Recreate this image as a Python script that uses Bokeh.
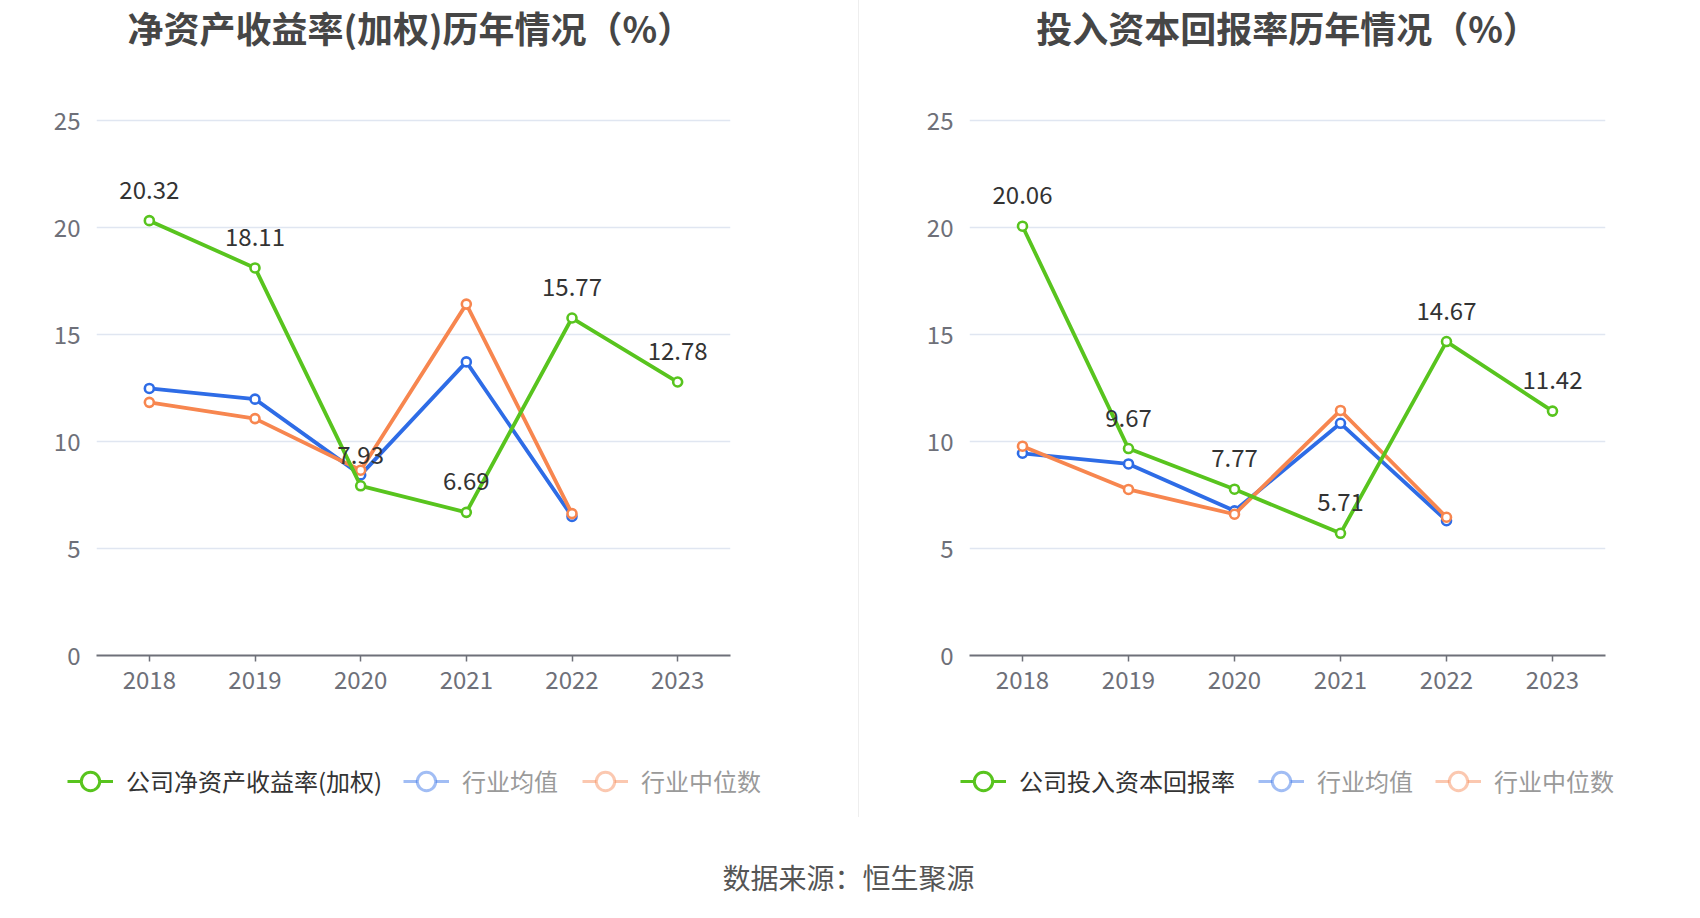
from bokeh.plotting import figure
from bokeh.models import (ColumnDataSource, FactorRange, Range1d, Legend, LegendItem,
                          Label, Div, FixedTicker)
from bokeh.layouts import row, column
from bokeh.embed import file_html
from bokeh.resources import INLINE
from bokeh.core.properties import value

# ---------------- data ----------------
years = ["2018", "2019", "2020", "2021", "2022", "2023"]
years_ind = ["2018", "2019", "2020", "2021", "2022"]

roe_company = [20.32, 18.11, 7.93, 6.69, 15.77, 12.78]
roe_ind_mean = [12.48, 11.98, 8.44, 13.72, 6.50]
roe_ind_median = [11.83, 11.07, 8.66, 16.42, 6.63]

roic_company = [20.06, 9.67, 7.77, 5.71, 14.67, 11.42]
roic_ind_mean = [9.45, 8.95, 6.76, 10.85, 6.30]
roic_ind_median = [9.78, 7.76, 6.60, 11.45, 6.46]

y_ticks = [0, 5, 10, 15, 20, 25]

title_left = "净资产收益率(加权)历年情况（%）"
title_right = "投入资本回报率历年情况（%）"
legend_left = ["公司净资产收益率(加权)", "行业均值", "行业中位数"]
legend_right = ["公司投入资本回报率", "行业均值", "行业中位数"]
footer_text = "数据来源：恒生聚源"

# ---------------- style ----------------
FONT = "Noto Sans CJK SC"
GREEN = "#58c41e"
BLUE = "#2e6ce6"
ORANGE = "#f7864f"
AXIS = "#6e7079"
GRID = "#e0e6f1"

MAIN_H = 750
FRAME_BOTTOM = 655          # page y of value 0
PX_PER_UNIT = 21.4
Y_TOP = FRAME_BOTTOM / PX_PER_UNIT
TITLE_Y = 26                # page y of title centre


def make_main(width, border_left, border_right, title, company, mean, median, title_x):
    p = figure(width=width, height=MAIN_H, x_range=FactorRange(*years, range_padding=0),
               y_range=Range1d(0, Y_TOP), output_backend="svg", toolbar_location=None,
               min_border_left=border_left, min_border_right=border_right,
               min_border_top=0, min_border_bottom=MAIN_H - FRAME_BOTTOM,
               frame_align=False)
    p.outline_line_color = None
    p.xgrid.grid_line_color = None
    p.ygrid.grid_line_color = GRID
    p.ygrid.grid_line_width = 1.5

    p.yaxis.ticker = FixedTicker(ticks=y_ticks)
    p.yaxis.axis_line_color = None
    p.yaxis.major_tick_line_color = None
    p.yaxis.major_tick_out = 0
    p.yaxis.major_tick_in = 0
    p.yaxis.minor_tick_line_color = None
    p.yaxis.major_label_text_font = FONT
    p.yaxis.major_label_text_font_size = "24px"
    p.yaxis.major_label_text_color = AXIS
    p.yaxis.major_label_standoff = 16

    p.xaxis.axis_line_color = AXIS
    p.xaxis.axis_line_width = 2
    p.xaxis.major_tick_line_color = AXIS
    p.xaxis.major_tick_line_width = 1.5
    p.xaxis.major_tick_in = 0
    p.xaxis.major_tick_out = 6
    p.xaxis.major_label_standoff = 9
    p.xaxis.major_label_text_font = FONT
    p.xaxis.major_label_text_font_size = "24px"
    p.xaxis.major_label_text_color = AXIS

    src_c = ColumnDataSource(dict(x=years, y=company, t=["%.2f" % v for v in company]))
    src_m = ColumnDataSource(dict(x=years_ind, y=mean))
    src_d = ColumnDataSource(dict(x=years_ind, y=median))

    for src, col in ((src_m, BLUE), (src_d, ORANGE), (src_c, GREEN)):
        p.line("x", "y", source=src, line_color=col, line_width=3.8)
        p.scatter("x", "y", source=src, size=9, marker="circle", line_color=col,
                  line_width=2.6, fill_color="white")

    p.text("x", "y", text="t", source=src_c, text_font=value(FONT),
           text_font_size="24px", text_color="#333333", text_align="center",
           text_baseline="middle", y_offset=-31)

    p.add_layout(Label(x=title_x, y=(FRAME_BOTTOM - TITLE_Y) / PX_PER_UNIT, text=title,
                       text_font=FONT, text_font_size="36px", text_font_style="bold",
                       text_color="#464646", text_align="center",
                       text_baseline="middle"))
    return p


def make_legend(width, labels, xs):
    h = 90
    p = figure(width=width, height=h, x_range=Range1d(0, width), y_range=Range1d(0, h),
               output_backend="svg", toolbar_location=None, min_border=0,
               x_axis_location=None, y_axis_location=None, frame_align=False)
    p.grid.grid_line_color = None
    p.outline_line_color = None
    styles = [(GREEN, 1.0, "#333333"), (BLUE, 0.45, "#9a9a9a"), (ORANGE, 0.45, "#9a9a9a")]
    for lab, (col, alpha, tcol), lx in zip(labels, styles, xs):
        # a single point far outside the visible range: it only feeds the legend icon
        dummy = ColumnDataSource(dict(x=[-10000], y=[-10000]))
        r1 = p.line("x", "y", source=dummy, line_color=col, line_alpha=alpha, line_width=3)
        r2 = p.scatter("x", "y", source=dummy, marker="circle", line_color=col,
                       line_alpha=alpha, line_width=3, fill_color="white")
        leg = Legend(items=[LegendItem(label=lab, renderers=[r1, r2])],
                     location=(lx, 36.5), orientation="horizontal",
                     glyph_width=46, glyph_height=46, label_standoff=13,
                     padding=0, margin=0, border_line_color=None,
                     background_fill_alpha=0, label_text_font=FONT,
                     label_text_font_size="24px", label_text_color=tcol,
                     label_text_baseline="middle")
        p.add_layout(leg, "center")
    return p


p1 = make_main(858, 96, 128, title_left, roe_company, roe_ind_mean, roe_ind_median, 2.97)
l1 = make_legend(858, legend_left, [67, 403, 582])
p2 = make_main(841, 110, 95, title_right, roic_company, roic_ind_mean, roic_ind_median, 3.0)
l2 = make_legend(841, legend_right, [101, 399, 576])

divider = Div(width=1, height=817, margin=0,
              styles={"background-color": "#eeeeee", "margin": "0", "padding": "0"})

FOOT_H = 76
pf = figure(width=1700, height=FOOT_H, x_range=Range1d(0, 1700), y_range=Range1d(0, FOOT_H),
            output_backend="svg", toolbar_location=None, min_border=0,
            x_axis_location=None, y_axis_location=None, frame_align=False)
pf.grid.grid_line_color = None
pf.outline_line_color = None
pf.add_layout(Label(x=848, y=FOOT_H - 36.5, text=footer_text, text_font=FONT,
                    text_font_size="28px", text_color="#555555", text_align="center",
                    text_baseline="middle"))

layout = column(row(column(p1, l1, spacing=0), divider, column(p2, l2, spacing=0), spacing=0),
                pf, spacing=0)

with open("out.html", "w") as f:
    f.write(file_html(layout, INLINE))
